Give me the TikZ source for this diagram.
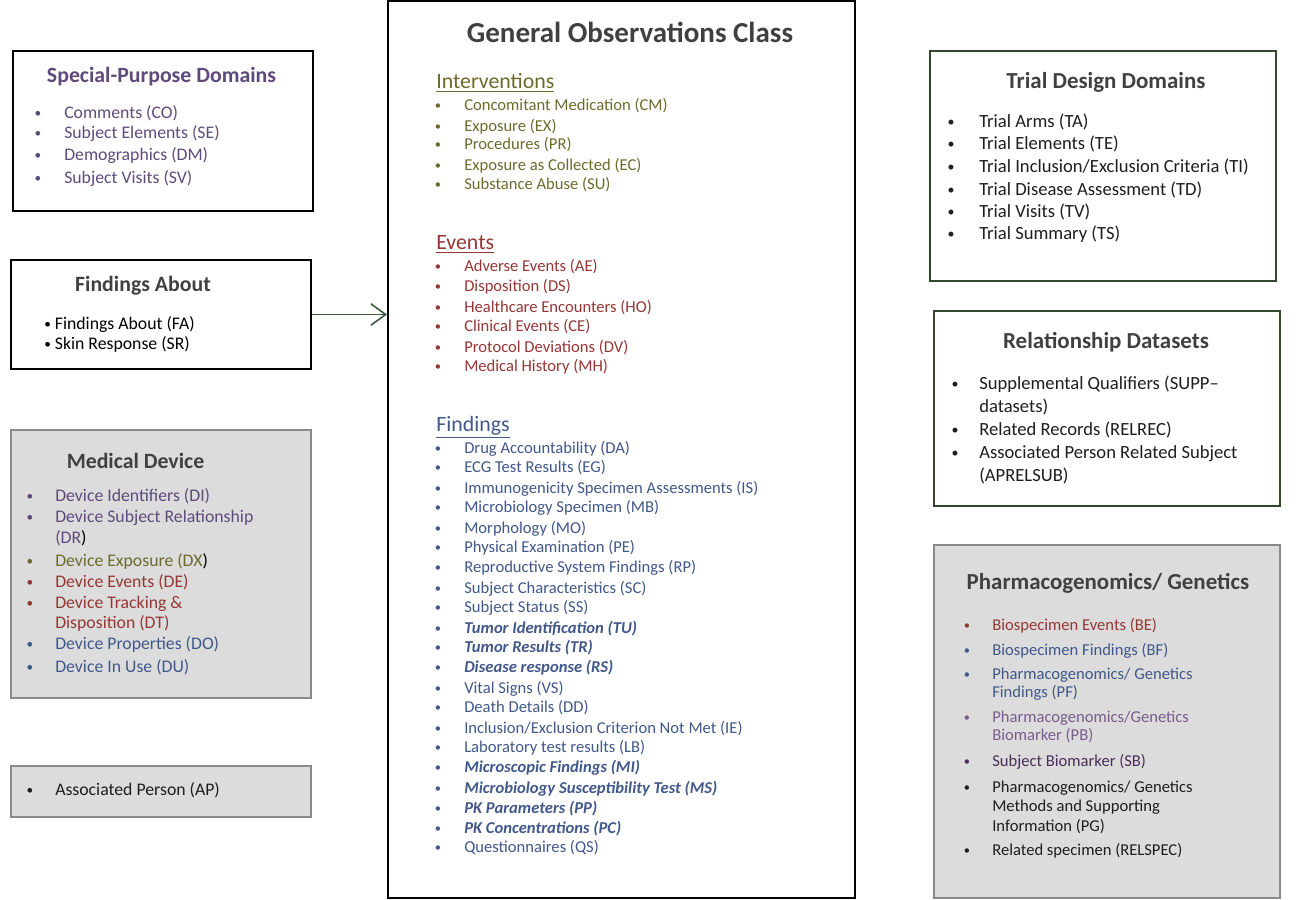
\documentclass[tikz,border=0pt]{standalone}
\usepackage{fontspec}
\setmainfont{Carlito}
\usetikzlibrary{arrows.meta}

\definecolor{ttl}{HTML}{404040}
\definecolor{cpurple}{HTML}{604A7B}
\definecolor{cpurplelt}{HTML}{7A5C8C}
\definecolor{cpurpledk}{HTML}{4B2D5A}
\definecolor{colive}{HTML}{6E6A2C}
\definecolor{cred}{HTML}{953735}
\definecolor{cblue}{HTML}{41588A}
\definecolor{cblack}{HTML}{1E1E1E}
\definecolor{boxgray}{HTML}{DCDCDC}
\definecolor{edgegray}{HTML}{8A8A8A}
\definecolor{edgegreen}{HTML}{34482F}
\definecolor{arrowgreen}{HTML}{3B5A3B}

% a small list bullet
\newcommand\sbul{\raisebox{0.07em}{\scalebox{0.75}{\textbullet}}}
% one bulleted line: name, bullet x, text x, y, options, text
\newcommand\li[6]{%
  \node[dot,#5] (#1-b) at (#2,#4) {\sbul};
  \node[ln,#5] (#1) at (#3,#4) {#6};}
% continuation line of a bulleted entry: name, x, y, options, text
\newcommand\lc[5]{\node[ln,#4] (#1) at (#2,#3) {#5};}

\begin{document}
\begin{tikzpicture}[x=0.75pt,y=-0.75pt,
  box/.style={draw=black,line width=1.5pt,fill=white,inner sep=0pt},
  greybox/.style={draw=edgegray,line width=1.5pt,fill=boxgray,inner sep=0pt},
  greenbox/.style={draw=edgegreen,line width=1.5pt,fill=white,inner sep=0pt},
  ln/.style={anchor=base west,inner sep=0pt},
  dot/.style={anchor=base,inner sep=0pt},
  itemC/.style={font=\fontsize{12.45}{15}\selectfont,yshift=-4pt},
  itemL/.style={font=\fontsize{13.3}{16}\selectfont,yshift=-4.25pt},
  itemR/.style={font=\fontsize{13.95}{17}\selectfont,yshift=-4.45pt},
  itemP/.style={font=\fontsize{12.45}{15}\selectfont,yshift=-4pt},
  maintitle/.style={anchor=base,inner sep=0pt,text=ttl,font=\fontsize{21.75}{26}\selectfont\bfseries,yshift=-7pt},
  boxtitle/.style={anchor=base,inner sep=0pt,text=ttl,font=\fontsize{16.35}{20}\selectfont\bfseries,yshift=-5.2pt},
  boxtitleR/.style={anchor=base,inner sep=0pt,text=ttl,font=\fontsize{17.2}{21}\selectfont\bfseries,yshift=-5.5pt},
  section/.style={anchor=base west,inner sep=0pt,font=\fontsize{16.4}{20}\selectfont,yshift=-5.2pt},
  link/.style={draw=arrowgreen,line width=1.4pt,-{Straight Barb[length=11pt,width=16pt,line width=1.2pt]}}
]
\useasboundingbox (0,0) rectangle (1297,900);

% ---------- frames ----------
\node[box,minimum width=225pt,minimum height=120pt] (spd) at (163,131) {};
\node[box,minimum width=225pt,minimum height=81.75pt] (fa) at (161,314.5) {};
\node[greybox,minimum width=225pt,minimum height=201pt] (md) at (161,564) {};
\node[greybox,minimum width=225pt,minimum height=38.25pt] (ap) at (161,791.5) {};
\node[box,minimum width=350.25pt,minimum height=672.75pt] (goc) at (621.5,449.5) {};
\node[greenbox,minimum width=259.5pt,minimum height=172.5pt] (tdd) at (1103,166) {};
\node[greenbox,minimum width=259.5pt,minimum height=146.25pt] (rel) at (1107,408.5) {};
\node[greybox,minimum width=259.5pt,minimum height=264.75pt] (pg) at (1107,721.5) {};

% ---------- Special-Purpose Domains ----------
\node[boxtitle,text=cpurple] (spd-t) at (161.5,76) {Special-Purpose Domains};
\foreach \y/\t [count=\i] in {113/{Comments (CO)},133/{Subject Elements (SE)},155/{Demographics (DM)},178/{Subject Visits (SV)}}
  {\li{spd\i}{38}{64}{\y}{itemL,text=cpurple}{\t}}

% ---------- Findings About ----------
\node[boxtitle] (fa-t) at (143,285) {Findings About};
\node[ln,itemL,text=black] (fa1) at (44,324) {\sbul\ Findings About (FA)};
\node[ln,itemL,text=black] (fa2) at (44,344) {\sbul\ Skin Response (SR)};

% ---------- Medical Device ----------
\node[boxtitle] (md-t) at (135.5,462) {Medical Device};
\li{md1}{30}{55}{496}{itemL,text=cpurple}{Device Identifiers (DI)}
\li{md2}{30}{55}{517}{itemL,text=cpurple}{Device Subject Relationship}
\lc{md2b}{55}{538}{itemL,text=cpurple}{(DR{\color{black})}}
\li{md3}{30}{55}{561}{itemL,text=colive}{Device Exposure (DX{\color{black})}}
\li{md4}{30}{55}{582}{itemL,text=cred}{Device Events (DE)}
\li{md5}{30}{55}{603}{itemL,text=cred}{Device Tracking \&}
\lc{md5b}{55}{623}{itemL,text=cred}{Disposition (DT)}
\li{md6}{30}{55}{644}{itemL,text=cblue}{Device Properties (DO)}
\li{md7}{30}{55}{667}{itemL,text=cblue}{Device In Use (DU)}

% ---------- Associated Person ----------
\li{ap1}{30}{55}{790}{itemL,text=cblack}{Associated Person (AP)}

% ---------- General Observations Class ----------
\node[maintitle] (goc-t) at (630,33) {General Observations Class};

\node[section,text=colive] (int-t) at (436,82) {\underline{Interventions}};
\foreach \y/\t [count=\i] in {105/{Concomitant Medication (CM)},126/{Exposure (EX)},144/{Procedures (PR)},165/{Exposure as Collected (EC)},184/{Substance Abuse (SU)}}
  {\li{int\i}{438}{464}{\y}{itemC,text=colive}{\t}}

\node[section,text=cred] (evt-t) at (436,243) {\underline{Events}};
\foreach \y/\t [count=\i] in {266/{Adverse Events (AE)},286/{Disposition (DS)},307/{Healthcare Encounters (HO)},326/{Clinical Events (CE)},347/{Protocol Deviations (DV)},366/{Medical History (MH)}}
  {\li{evt\i}{438}{464}{\y}{itemC,text=cred}{\t}}

\node[section,text=cblue] (fnd-t) at (436,425) {\underline{Findings}};
\foreach \y/\t [count=\i] in {
  448/{Drug Accountability (DA)},
  467/{ECG Test Results (EG)},
  488/{Immunogenicity Specimen Assessments (IS)},
  507/{Microbiology Specimen (MB)},
  528/{Morphology (MO)},
  547/{Physical Examination (PE)},
  567/{Reproductive System Findings (RP)},
  588/{Subject Characteristics (SC)},
  607/{Subject Status (SS)},
  628/{\bfseries\itshape Tumor Identification (TU)},
  647/{\bfseries\itshape Tumor Results (TR)},
  667/{\bfseries\itshape Disease response (RS)},
  688/{Vital Signs (VS)},
  707/{Death Details (DD)},
  728/{Inclusion/Exclusion Criterion Not Met (IE)},
  747/{Laboratory test results (LB)},
  767/{\bfseries\itshape Microscopic Findings (MI)},
  788/{\bfseries\itshape Microbiology Susceptibility Test (MS)},
  808/{\bfseries\itshape PK Parameters (PP)},
  828/{\bfseries\itshape PK Concentrations (PC)},
  847/{Questionnaires (QS)}}
  {\li{fnd\i}{438}{464}{\y}{itemC,text=cblue}{\t}}

% ---------- Trial Design Domains ----------
\node[boxtitleR] (tdd-t) at (1106,81) {Trial Design Domains};
\foreach \y/\t [count=\i] in {122/{Trial Arms (TA)},144/{Trial Elements (TE)},167/{Trial Inclusion/Exclusion Criteria (TI)},190/{Trial Disease Assessment (TD)},212/{Trial Visits (TV)},234/{Trial Summary (TS)}}
  {\li{tdd\i}{951}{979}{\y}{itemR,text=cblack}{\t}}

% ---------- Relationship Datasets ----------
\node[boxtitleR] (rel-t) at (1106,341) {Relationship Datasets};
\li{rel1}{955}{979}{384}{itemR,text=cblack}{Supplemental Qualifiers (SUPP--}
\lc{rel1b}{979}{407}{itemR,text=cblack}{datasets)}
\li{rel2}{955}{979}{430}{itemR,text=cblack}{Related Records (RELREC)}
\li{rel3}{955}{979}{453}{itemR,text=cblack}{Associated Person Related Subject}
\lc{rel3b}{979}{476}{itemR,text=cblack}{(APRELSUB)}

% ---------- Pharmacogenomics/ Genetics ----------
\node[boxtitleR] (pg-t) at (1108,582) {Pharmacogenomics/ Genetics};
\li{pg1}{967}{992}{625}{itemP,text=cred}{Biospecimen Events (BE)}
\li{pg2}{967}{992}{650}{itemP,text=cblue}{Biospecimen Findings (BF)}
\li{pg3}{967}{992}{674}{itemP,text=cblue}{Pharmacogenomics/ Genetics}
\lc{pg3b}{992}{692}{itemP,text=cblue}{Findings (PF)}
\li{pg4}{967}{992}{717}{itemP,text=cpurplelt}{Pharmacogenomics/Genetics}
\lc{pg4b}{992}{735}{itemP,text=cpurplelt}{Biomarker (PB)}
\li{pg5}{967}{992}{761}{itemP,text=cpurpledk}{Subject Biomarker (SB)}
\li{pg6}{967}{992}{787}{itemP,text=cblack}{Pharmacogenomics/ Genetics}
\lc{pg6b}{992}{806}{itemP,text=cblack}{Methods and Supporting}
\lc{pg6c}{992}{826}{itemP,text=cblack}{Information (PG)}
\li{pg7}{967}{992}{850}{itemP,text=cblack}{Related specimen (RELSPEC)}

% ---------- connector ----------
\draw[link] (fa.east) -- (goc.west |- fa.east);
\end{tikzpicture}
\end{document}
